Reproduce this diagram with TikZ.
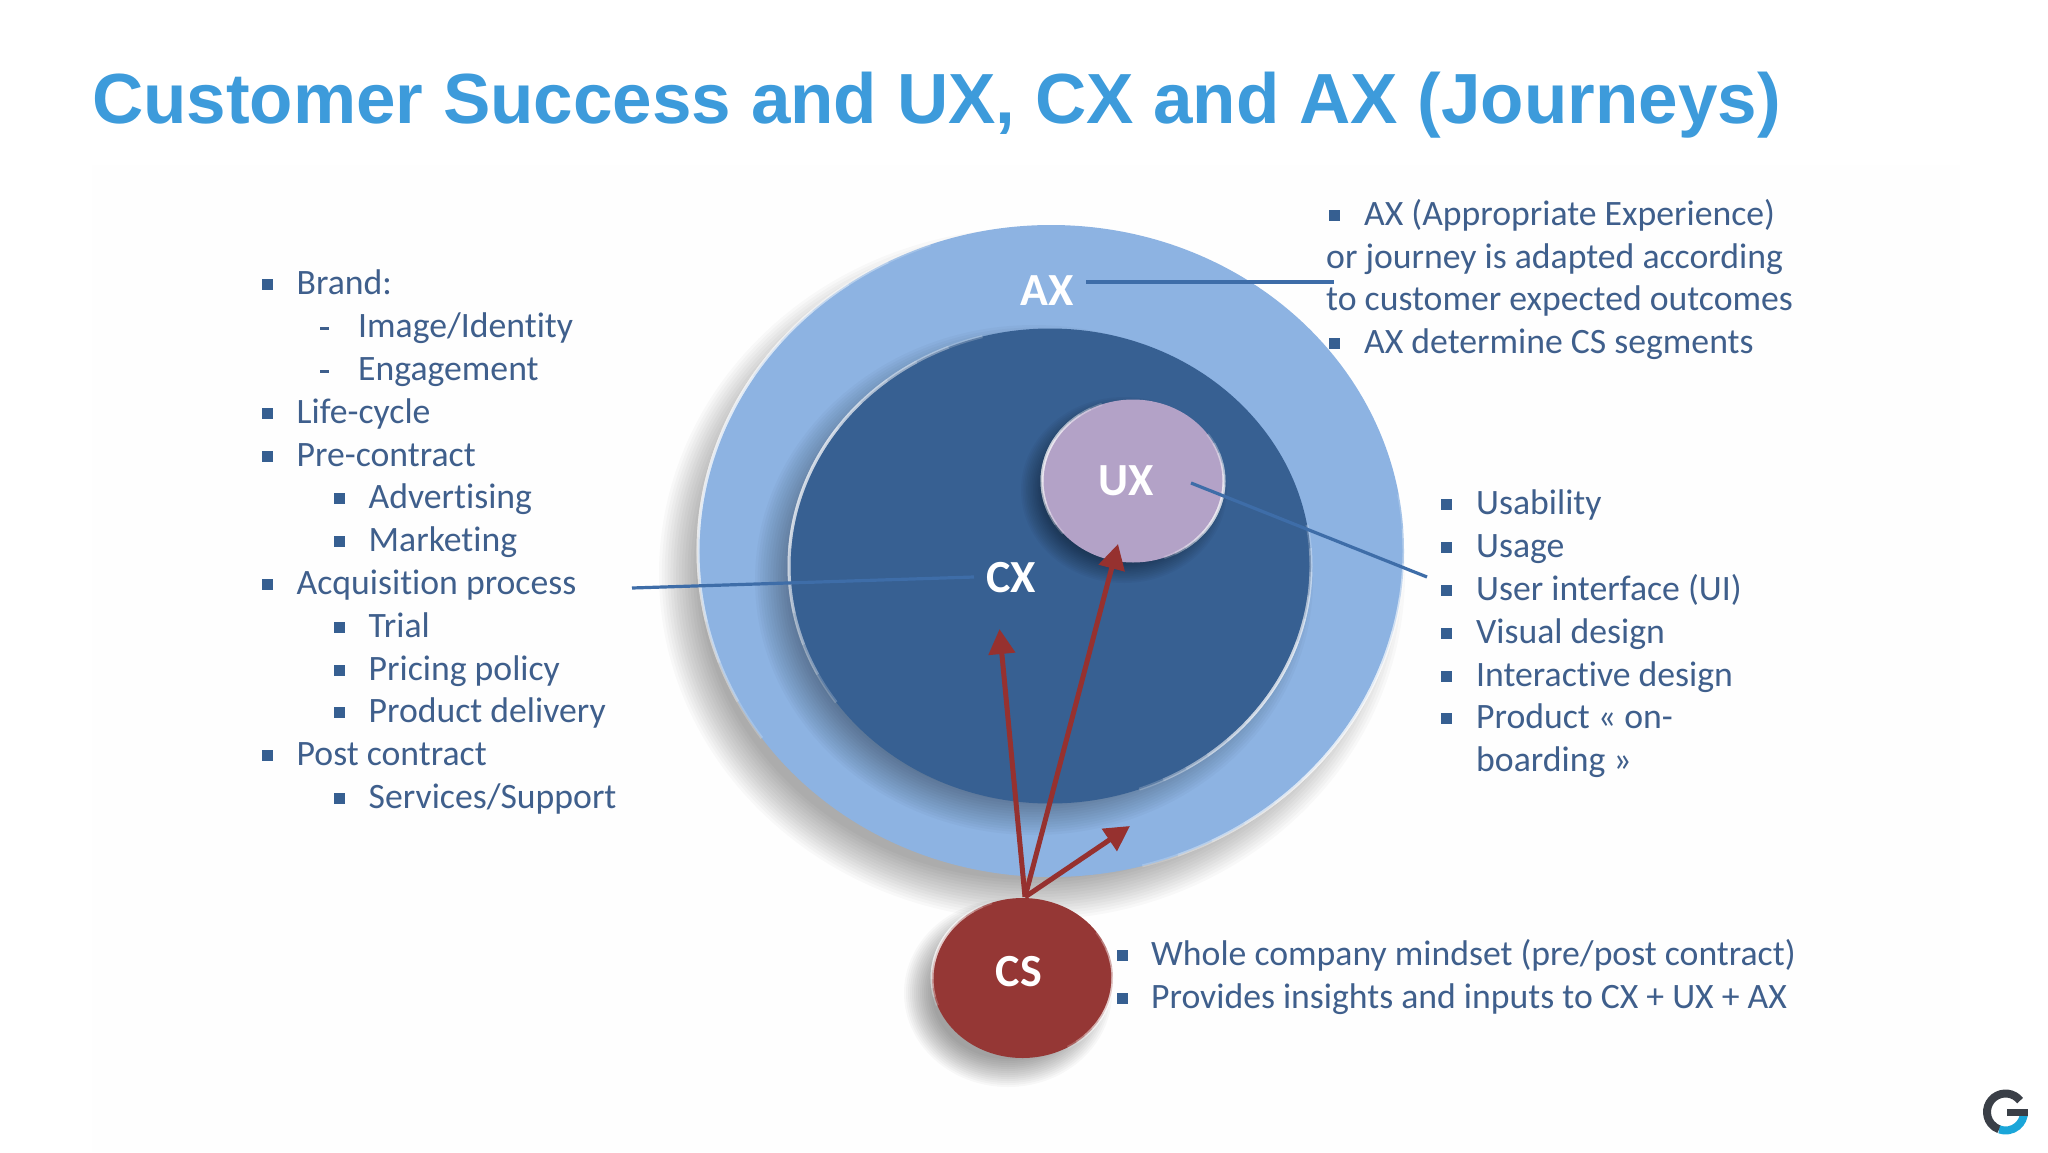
\documentclass[tikz,border=0pt]{standalone}
\usepackage{fontspec}
\setmainfont[Ligatures=NoCommon]{Carlito}
\newfontfamily\titlefont{Liberation Sans}
\usetikzlibrary{shapes.geometric,arrows.meta}
\definecolor{axblue}{HTML}{8DB3E2}
\definecolor{cxblue}{HTML}{376092}
\definecolor{uxpurple}{HTML}{B3A2C7}
\definecolor{csred}{HTML}{953735}
\definecolor{txt}{HTML}{3F5F8C}
\definecolor{bul}{HTML}{365F91}
\definecolor{ttl}{HTML}{3D9BDB}
\definecolor{lin}{HTML}{3E6DA8}
\definecolor{arr}{HTML}{96312F}
\definecolor{gdark}{HTML}{3A3F47}
\definecolor{gcyan}{HTML}{1BA6D9}
\definecolor{paper}{HTML}{FEFEFE}
\tikzset{
  listtext/.style={anchor=base west,inner sep=0pt,text=txt,font=\fontsize{35.7}{42}\selectfont},
  disc/.style={ellipse,inner sep=0pt,minimum width=#1},
  badge/.style={text=white,inner sep=0pt,font=\fontsize{46}{52}\selectfont\bfseries},
  leader/.style={draw=lin,line width=3.2pt},
  influence/.style={draw=arr,line width=5pt,-{Triangle[length=25pt,width=26pt]}},
}
% soft shadow: centre x,y, radii rx,ry, spread, per-layer opacity
\newcommand{\softshade}[6]{%
  \foreach \i in {0,1,...,14}{%
    \fill[black,opacity=#6] (#1,#2) ellipse [x radius={(#3+#5*(1-\i/7))*1pt}, y radius={(#4+#5*(1-\i/7))*1pt}];
  }}
% fading rim highlight: node, rx, ry, start angle, end angle (start<end)
\newcommand{\rim}[5]{%
  \foreach \k in {0,1,...,5}{%
    \pgfmathsetmacro{\sa}{#4+\k*(#5-#4)/14}%
    \pgfmathsetmacro{\ea}{#5-\k*(#5-#4)/14}%
    \draw[white,opacity=0.2,line width=3pt] (#1.center) ++(\sa:#2pt and #3pt) arc [start angle=\sa,end angle=\ea,x radius=#2pt,y radius=#3pt];
  }}
% bullet + text
\newcommand{\bitem}[5]{%
  \fill[bul] (#2,#4-16) rectangle ++(10.5,10.5);
  \node[listtext] (#1) at (#3,#4-1) {#5};}
\newcommand{\ditem}[5]{%
  \fill[txt] (#2,#4-11) rectangle ++(9,2.6);
  \node[listtext] (#1) at (#3,#4-1) {#5};}
\begin{document}
\begin{tikzpicture}[x=1pt,y=-1pt]
\useasboundingbox (0,0) rectangle (2048,1152);
\fill[white] (0,0) rectangle (2048,1152);
\fill[paper] (92,165) rectangle (1960,1152);
\node[anchor=base west,inner sep=0pt,text=ttl,font=\fontsize{71}{80}\selectfont\titlefont\bfseries] (title) at (92,123) {Customer Success and UX, CX and AX (Journeys)};

% AX
\softshade{1032}{574}{353}{326}{20}{0.024}
\node[disc=706pt,minimum height=652pt,fill=axblue] (ax) at (1051,551) {};
\rim{ax}{353}{326}{110}{215}
\rim{ax}{353}{326}{-75}{10}
% CX
\softshade{1034}{580}{261}{237}{18}{0.022}
\node[disc=522pt,minimum height=475pt,fill=cxblue] (cx) at (1050,566) {};
\rim{cx}{261}{237.5}{105}{215}
\rim{cx}{261}{237.5}{-70}{10}
% UX
\softshade{1124}{490}{91}{81}{12}{0.03}
\node[disc=182pt,minimum height=163pt,fill=uxpurple] (ux) at (1133,481) {};
\rim{ux}{91}{81.5}{110}{220}
\rim{ux}{91}{81.5}{-70}{35}

% CS
\softshade{1008}{993}{90}{80}{14}{0.028}
\node[disc=181pt,minimum height=160pt,fill=csred] (cs) at (1022.5,978) {};
\rim{cs}{90.5}{80}{110}{200}
\rim{cs}{90.5}{80}{-60}{35}

% labels
\node[badge] (axl) at (1047,291) {AX};
\node[badge] (cxl) at (1011,578) {CX};
\node[badge] (uxl) at (1126,481) {UX};
\node[badge] (csl) at (1019,972) {CS};

% leaders
\coordinate (axa) at (1086,282); \coordinate (axb) at (1334,282);
\coordinate (uxa) at (1191,483); \coordinate (uxb) at (1427,577);
\coordinate (cxa) at (632,588); \coordinate (cxb) at (974,577);
\draw[leader] (axa) -- (axb);
\draw[leader] (uxa) -- (uxb);
\draw[leader] (cxa) -- (cxb);

% arrows
\coordinate (o) at (1025,897);
\coordinate (tcx) at (999.5,629);
\coordinate (tux) at (1118,544);
\coordinate (tax) at (1130,826);
\draw[influence] (o) -- (tcx);
\draw[influence] (o) -- (tux);
\draw[influence] (o) -- (tax);

% left list
\bitem{l1}{262}{296.5}{295}{Brand:}
\ditem{l2}{320}{358}{338}{Image/Identity}
\ditem{l3}{320}{358}{381}{Engagement}
\bitem{l4}{262}{296.5}{424}{Life-cycle}
\bitem{l5}{262}{296.5}{467}{Pre-contract}
\bitem{l6}{334}{368.5}{509}{Advertising}
\bitem{l7}{334}{368.5}{552}{Marketing}
\bitem{l8}{262}{296.5}{595}{Acquisition process}
\bitem{l9}{334}{368.5}{638}{Trial}
\bitem{l10}{334}{368.5}{681}{Pricing policy}
\bitem{l11}{334}{368.5}{723}{Product delivery}
\bitem{l12}{262}{296.5}{766}{Post contract}
\bitem{l13}{334}{368.5}{809}{Services/Support}

% AX list
\bitem{a1}{1329}{1364}{226}{AX (Appropriate Experience)}
\node[listtext] (a2) at (1326,268) {or journey is adapted according};
\node[listtext] (a3) at (1326,310) {to customer expected outcomes};
\bitem{a4}{1329}{1364}{354}{AX determine CS segments}

% UX list
\bitem{u1}{1441}{1476}{515}{Usability}
\bitem{u2}{1441}{1476}{558}{Usage}
\bitem{u3}{1441}{1476}{601}{User interface (UI)}
\bitem{u4}{1441}{1476}{644}{Visual design}
\bitem{u5}{1441}{1476}{687}{Interactive design}
\bitem{u6}{1441}{1476}{729}{Product « on-}
\node[listtext] (u7) at (1476,771) {boarding »};

% CS list
\bitem{c1}{1117}{1151}{966}{Whole company mindset (pre/post contract)}
\bitem{c2}{1117}{1151}{1009}{Provides insights and inputs to CX + UX + AX}

% logo
\draw[gdark,line width=8pt] (2005.5,1112) ++(38:18.5pt) arc [start angle=38,end angle=250,radius=18.5pt];
\draw[gcyan,line width=8pt] (2005.5,1112) ++(250:18.5pt) arc [start angle=250,end angle=360,radius=18.5pt];
\fill[gdark] (2007,1109) rectangle (2028,1116);
\end{tikzpicture}
\end{document}
